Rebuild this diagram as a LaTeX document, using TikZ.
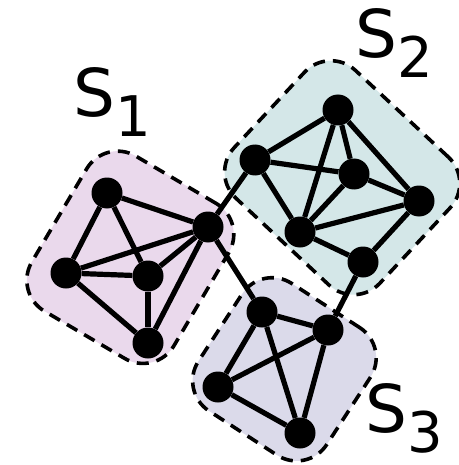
\documentclass[tikz,border=0pt]{standalone}
\usepackage{fontspec}
\setsansfont{DejaVu Sans}
\usetikzlibrary{positioning}
\definecolor{setpink}{RGB}{234,217,236}
\definecolor{setteal}{RGB}{212,231,232}
\definecolor{setlav}{RGB}{219,218,234}
\tikzset{
  gvertex/.style={circle, fill=black, minimum size=31pt, inner sep=0pt},
  gline/.style ={line width=5.2pt, black},
  gset/.style  ={rectangle, draw=black, line width=3.6pt, dash pattern=on 12pt off 8pt,
                 rounded corners=36pt, inner sep=0pt},
  glabel/.style={font=\sffamily\fontsize{66}{66}\selectfont, inner sep=0pt, anchor=base west},
}
\newcommand{\subidx}[1]{\raisebox{-20pt}{\fontsize{56}{56}\selectfont #1}}

\begin{document}
\begin{tikzpicture}[x=1pt, y=-1pt]
  \useasboundingbox (0,0) rectangle (458,465);
  % the three sets
  \node[gset, fill=setpink, minimum width=165pt, minimum height=180pt, rotate=-30.5] (set1) at (130.3,257.3) {};
  \node[gset, fill=setteal, minimum width=199pt, minimum height=175pt, rotate=-43]   (set2) at (342.2,177.7) {};
  \node[gset, fill=setlav,  minimum width=153pt, minimum height=152pt, rotate=-33]   (set3) at (284.4,369.3) {};
  % vertices
  \node[gvertex] (v11) at (107,193) {};
  \node[gvertex] (v12) at (66,273) {};
  \node[gvertex] (v13) at (148,276) {};
  \node[gvertex] (v14) at (148,343) {};
  \node[gvertex] (v15) at (208,227) {};
  \node[gvertex] (v21) at (338,110) {};
  \node[gvertex] (v22) at (255,160) {};
  \node[gvertex] (v23) at (354,174) {};
  \node[gvertex] (v24) at (419,201) {};
  \node[gvertex] (v25) at (300,232) {};
  \node[gvertex] (v26) at (363,262) {};
  \node[gvertex] (v31) at (262,312) {};
  \node[gvertex] (v32) at (328,330) {};
  \node[gvertex] (v33) at (218,387) {};
  \node[gvertex] (v34) at (300,433) {};
  % edges
  \foreach \a/\b in {v11/v12, v11/v15, v11/v13, v12/v15, v12/v13, v12/v14, v13/v15, v13/v14, v14/v15,
                     v21/v22, v21/v23, v21/v25, v21/v24, v22/v23, v22/v25, v23/v24, v23/v25,
                     v25/v24, v25/v26, v26/v24,
                     v31/v32, v31/v33, v31/v34, v32/v33, v32/v34, v33/v34,
                     v15/v22, v15/v31, v26/v32}
    \draw[gline] (\a) -- (\b);
  % labels
  \node[glabel] (lab1) at (73,117)  {S\subidx{1}};
  \node[glabel] (lab2) at (355,58)  {S\subidx{2}};
  \node[glabel] (lab3) at (365,432) {S\subidx{3}};
\end{tikzpicture}
\end{document}
